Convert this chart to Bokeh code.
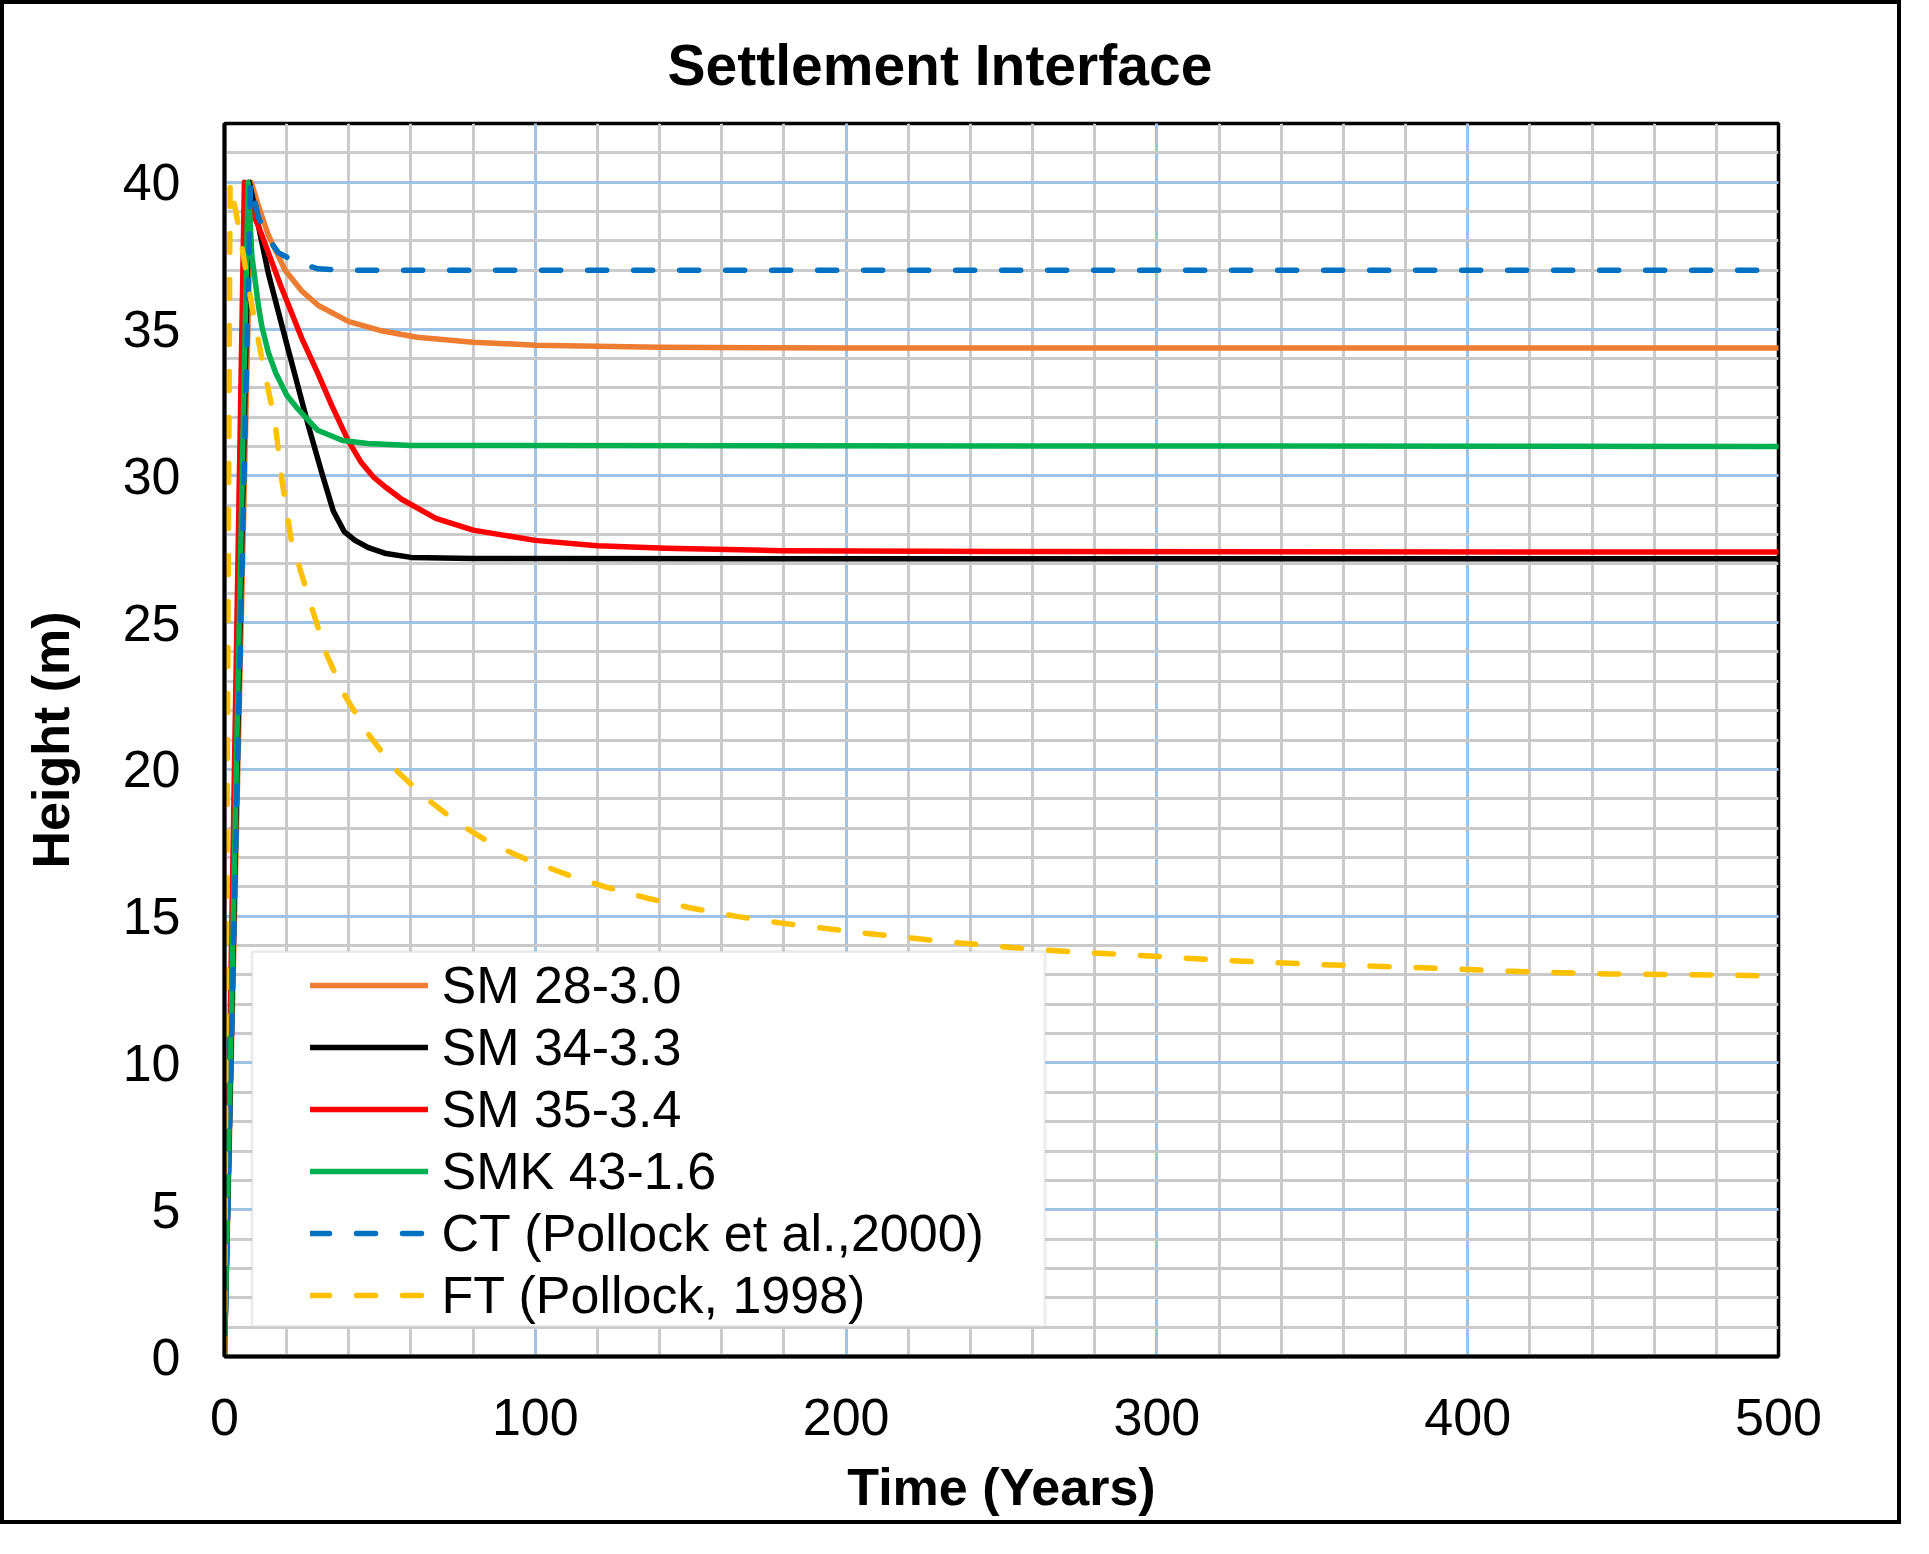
from bokeh.plotting import figure
from bokeh.models import SingleIntervalTicker, Range1d, Legend, LegendItem, BoxAnnotation
from bokeh.embed import file_html
from bokeh.resources import INLINE

FONT = "Liberation Sans"

# ---- data ----
sm28_t = [0, 8.6, 10.9, 14.1, 19.5, 24.8, 30.2, 40, 50, 62, 80, 100, 140, 200, 500]
sm28_h = [0, 40, 39.2, 38.2, 37.0, 36.3, 35.8, 35.25, 34.95, 34.72, 34.55, 34.45, 34.38, 34.35, 34.35]

sm34_t = [0, 8.0, 14.1, 19.5, 27.0, 31.3, 35.0, 38.5, 42, 46.3, 52, 60, 80, 500]
sm34_h = [0, 40, 36.9, 34.7, 31.7, 30.1, 28.8, 28.1, 27.8, 27.55, 27.35, 27.22, 27.18, 27.17]

sm35_t = [0, 6.4, 9, 12, 18, 24.8, 30, 34.5, 39.8, 44, 48, 52, 57, 68, 80, 100, 120, 142, 179, 250, 500]
sm35_h = [0, 40, 39.0, 38.2, 36.5, 34.7, 33.5, 32.4, 31.2, 30.45, 29.95, 29.6, 29.2, 28.55, 28.15, 27.8, 27.62, 27.53, 27.45, 27.42, 27.4]

smk43_t = [0, 7.6, 8.8, 10.9, 12, 14.1, 16.5, 20, 23, 30, 38, 46, 60, 500]
smk43_h = [0, 40, 37.5, 35.8, 35.1, 34.2, 33.5, 32.75, 32.35, 31.55, 31.2, 31.1, 31.03, 31.0]

ct_t = [0, 8.4, 10.9, 14, 17.3, 22.7, 30, 40, 500]
ct_h = [0, 40, 38.8, 38.1, 37.6, 37.3, 37.05, 37.0, 37.0]

ft_t = [0, 1.8, 4.0, 8.8, 12.0, 16.3, 18.4, 21.5, 28.1, 32.9, 38.8, 46.3, 54.9, 64.5,
        74.7, 86, 97.8, 110.7, 122.5, 136.4, 150.4, 164.3, 178.8, 204, 232.9, 262.6,
        291.4, 322.2, 353, 383.8, 414.6, 445.4, 490.6, 500]
ft_h = [0, 40, 38.8, 35.8, 34.0, 31.8, 29.9, 27.8, 25.5, 23.9, 22.5, 21.2, 20.0, 19.05,
        18.2, 17.46, 16.9, 16.4, 16.0, 15.6, 15.27, 15.0, 14.77, 14.44, 14.12, 13.85,
        13.68, 13.49, 13.35, 13.25, 13.12, 13.03, 12.98, 12.95]

series = [
    ("SM 28-3.0", sm28_t, sm28_h, "#ED7D31", "solid"),
    ("SM 34-3.3", sm34_t, sm34_h, "#000000", "solid"),
    ("SM 35-3.4", sm35_t, sm35_h, "#FF0000", "solid"),
    ("SMK 43-1.6", smk43_t, smk43_h, "#00B050", "solid"),
    ("CT (Pollock et al.,2000)", ct_t, ct_h, "#0070C0", "19 27"),
    ("FT (Pollock, 1998)", ft_t, ft_h, "#FFC000", "19 27"),
]

x_major = 100
y_major = 5

p = figure(frame_width=1554, frame_height=1233,
           min_border_left=220, min_border_right=119,
           min_border_top=119, min_border_bottom=164,
           x_range=Range1d(0, 500), y_range=Range1d(0, 42),
           output_backend="svg", toolbar_location=None,
           title="Settlement Interface")
p.styles = {"border": "4px solid black"}
p.background_fill_color = "white"
p.border_fill_color = "white"
p.outline_line_color = "black"
p.outline_line_width = 3.5

p.title.text_font = FONT
p.title.text_font_size = "57px"
p.title.text_font_style = "bold"
p.title.text_color = "black"
p.title.text_line_height = 1.0
p.title.align = "left"
p.title.offset = 443
p.title.standoff = 53

xt = SingleIntervalTicker(interval=x_major, num_minor_ticks=5)
yt = SingleIntervalTicker(interval=y_major, num_minor_ticks=5)
p.xaxis.ticker = xt
p.yaxis.ticker = yt
p.xgrid.ticker = xt
p.ygrid.ticker = yt
for g in (p.xgrid, p.ygrid):
    g.grid_line_color = "#9DC3E6"
    g.grid_line_width = 3
    g.minor_grid_line_color = "#CACACA"
    g.minor_grid_line_width = 3

for ax in (p.xaxis, p.yaxis):
    ax.axis_line_color = "black"
    ax.axis_line_width = 4
    ax.major_tick_line_color = None
    ax.minor_tick_line_color = None
    ax.major_label_text_font = FONT
    ax.major_label_text_font_size = "52px"
    ax.major_label_text_color = "black"
    ax.axis_label_text_font = FONT
    ax.axis_label_text_font_size = "52px"
    ax.axis_label_text_font_style = "bold"
    ax.axis_label_text_color = "black"

p.xaxis.axis_label = "Time (Years)"
p.yaxis.axis_label = "Height (m)"
p.xaxis.major_label_standoff = 36
p.xaxis.axis_label_standoff = 20
p.yaxis.major_label_standoff = 38
p.yaxis.axis_label_standoff = 40

items = []
for name, t, h, col, dash in series:
    r = p.line(t, h, line_color=col, line_width=5.5, line_join="round",
               line_cap="round", line_dash=dash)
    items.append(LegendItem(label=name, renderers=[r]))

box = BoxAnnotation(left=27.5, right=820.5, bottom=30, top=405,
                    left_units="screen", right_units="screen",
                    bottom_units="screen", top_units="screen",
                    fill_color="white", fill_alpha=1.0,
                    line_color="#BFBFBF", line_width=3)
p.add_layout(box)

legend = Legend(items=items, location=(85.5, 30), padding=0, margin=0, spacing=0,
                glyph_width=118, glyph_height=62, label_height=62, label_standoff=14,
                label_text_font=FONT, label_text_font_size="52px",
                label_text_color="black",
                border_line_color=None, background_fill_alpha=0)
p.add_layout(legend)

open("out.html", "w").write(file_html(p, INLINE))
